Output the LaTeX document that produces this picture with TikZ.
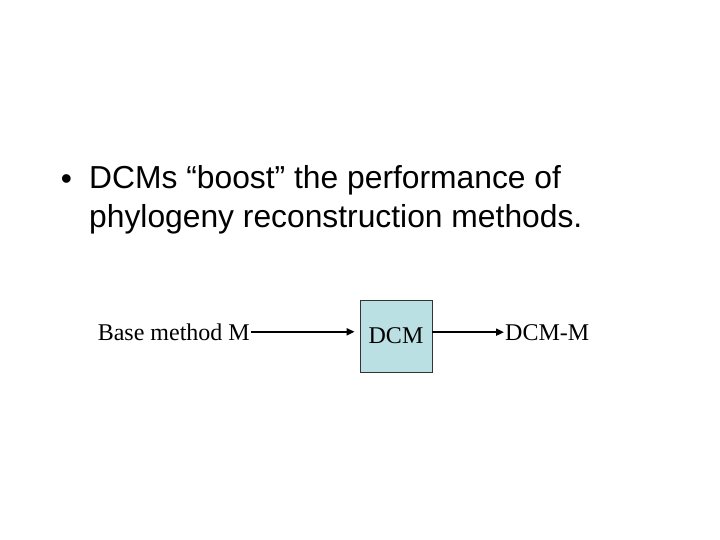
\documentclass[tikz,border=0pt]{standalone}
\usepackage{fontspec}
\setmainfont{Liberation Serif}
\newfontfamily\slidefont{Liberation Sans}
\usepackage{xcolor}
\usepackage{tikz}
\usetikzlibrary{arrows.meta,positioning}

\definecolor{dcmfill}{RGB}{187,224,227}
\tikzset{
  bullettext/.style={inner sep=0pt, font=\slidefont\fontsize{31.8}{38}\selectfont},
  lbl/.style={inner sep=0pt, font=\fontsize{24}{28}\selectfont},
  blk/.style={draw=black!80, line width=0.8pt, fill=dcmfill, minimum width=72pt,
    minimum height=72pt, inner sep=0pt, font=\fontsize{24}{28}\selectfont},
  arr/.style={line width=1.8pt, -{Triangle[length=8pt,width=7pt]}}
}

\begin{document}
\begin{tikzpicture}[x=1pt, y=-1pt]

  \useasboundingbox (0,0) rectangle (720,540);

  \node[bullettext, anchor=base] (dot) at (66.5,190) {•};
  \node[bullettext, anchor=base west] (line1) at (89,189) {DCMs “boost” the performance of};
  \node[bullettext, anchor=base west] (line2) at (89,227) {phylogeny reconstruction methods.};

  \node[blk] (dcm) at (396,336) {\raisebox{-2pt}{DCM}};
  \node[lbl, anchor=base east] (base) at (250,340) {Base method M};
  \node[lbl, anchor=base west] (out) at (505,340) {DCM-M};

  \draw[arr, shorten <=1pt, shorten >=5pt] (base.east) -- (base.east -| dcm.west);
  \draw[arr, shorten >=1pt] (dcm.east |- out.west) -- (out.west);

\end{tikzpicture}
\end{document}
